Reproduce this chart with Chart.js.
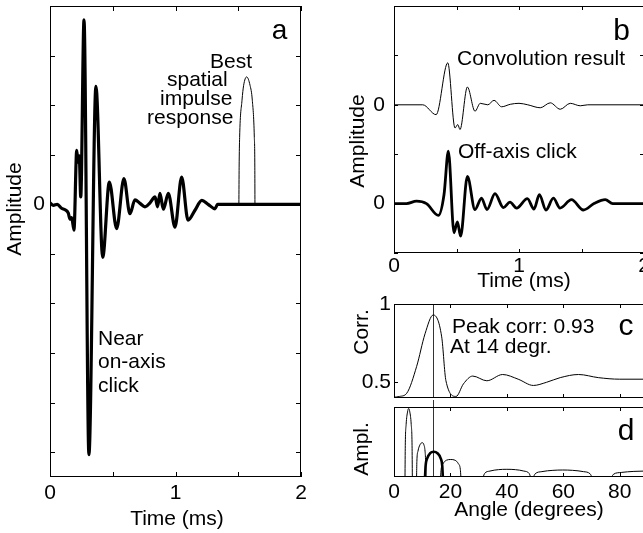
<!DOCTYPE html>
<html>
<head>
<meta charset="utf-8">
<script src="https://cdn.jsdelivr.net/npm/chart.js@4.4.1/dist/chart.umd.min.js"></script>
<style>
  body { margin: 0; background: #fff; }
  #fig { position: relative; width: 643px; height: 533px; overflow: hidden; background: #fff; }
  #fig canvas { position: absolute; }
</style>
</head>
<body>
<div id="fig">
  <canvas id="chartA" width="320" height="533" style="left:0px;top:0px"></canvas>
  <canvas id="chartB" width="340" height="300" style="left:320px;top:0px"></canvas>
  <canvas id="chartC" width="340" height="115" style="left:320px;top:290px"></canvas>
  <canvas id="chartD" width="340" height="133" style="left:320px;top:400px"></canvas>
</div>
<script>
// panel a: near on-axis click (time in ms, amplitude in tick units)
const onAxisT = [0, 0.027, 0.058, 0.092, 0.12, 0.146, 0.159, 0.173, 0.191, 0.213, 0.223, 0.233, 0.245, 0.271, 0.31, 0.366, 0.42, 0.473, 0.531, 0.589, 0.637, 0.677, 0.717, 0.757, 0.797, 0.837, 0.857, 0.876, 0.903, 0.943, 0.996, 1.049, 1.1, 1.155, 1.21, 1.26, 1.315, 1.335, 2];
const onAxisAmp = [0.03, -0.02, 0, -0.08, -0.11, -0.18, -0.3, -0.27, -0.52, 1.09, 0.85, 0.98, 0.15, 3.72, -5.05, 2.38, -1.07, 0.45, -0.49, 0.52, -0.19, 0.09, 0.02, -0.05, 0.03, 0.15, -0.05, 0.22, -0.1, 0.22, -0.46, 0.55, -0.32, -0.12, 0.08, 0, -0.09, 0, 0];
// best spatial impulse response
const bestT = [1.505, 1.507, 1.511, 1.53, 1.543, 1.567, 1.594, 1.612, 1.628, 1.632, 1.633];
const bestAmp = [0, 0.75, 1.35, 2.1, 2.4, 2.57, 2.4, 2.1, 1.35, 0.75, 0];
const xTicksA = [0, 0.5, 1, 1.5, 2];
const yTicksA = [-5, -4, -3, -2, -1, 0, 1, 2, 3, 4];

// panel b: convolution result (offset by 2) and off-axis click
const convT = [0, 0.23, 0.337, 0.43, 0.488, 0.51, 0.528, 0.587, 0.648, 0.69, 0.75, 0.8, 0.861, 0.93, 1.0, 1.07, 1.17, 1.25, 1.33, 1.41, 1.49, 1.55, 2];
const convAmp = [0, 0, -0.2, 0.85, -0.47, -0.4, -0.5, 0.36, -0.13, 0.03, 0, 0.09, -0.04, 0.01, 0.03, 0, -0.06, 0.04, -0.09, 0.03, -0.02, 0, 0];
const offT = [0, 0.1, 0.18, 0.26, 0.355, 0.4, 0.435, 0.48, 0.507, 0.533, 0.587, 0.648, 0.7, 0.744, 0.808, 0.875, 0.928, 0.981, 1.067, 1.12, 1.163, 1.216, 1.275, 1.328, 1.42, 1.515, 1.6, 1.69, 1.75, 2];
const offAmp = [0, 0, 0.05, 0, -0.24, 0.18, 1.06, -0.59, -0.37, -0.66, 0.55, -0.12, 0.11, -0.12, 0.2, -0.08, 0.03, -0.09, 0.1, -0.11, 0.18, -0.13, 0.11, -0.09, 0.08, -0.13, 0, 0.08, 0, 0];
const convOffset = 2;
const xTicksB = [0, 0.5, 1, 1.5, 2];
const yTicksB = [-1, 0, 1, 2, 3, 4];

// panel c: correlation vs angle
const corrDeg = [0, 2, 4.5, 8, 11, 13.9, 16.9, 18.4, 22, 24.6, 27.9, 32.9, 38.5, 44, 49.4, 54, 58.9, 65.4, 72.4, 80, 90];
const corrVal = [0.405, 0.41, 0.43, 0.6, 0.81, 0.93, 0.79, 0.51, 0.41, 0.49, 0.54, 0.51, 0.55, 0.52, 0.48, 0.5, 0.53, 0.55, 0.53, 0.52, 0.52];
const peakAngle = 14;
const angleTicks = [0, 20, 40, 60, 80];
const corrTicks = [0.5, 1];

// panel d: amplitude lobes vs angle (lobe3 is the thick one)
const lobe1Deg = [3.9, 4.0, 4.3, 4.8, 5.2, 5.6, 6.1, 6.4, 6.5];
const lobe1Val = [0, 0.45, 0.75, 0.93, 0.98, 0.93, 0.75, 0.45, 0];
const lobe2Deg = [8.0, 8.1, 8.5, 9.2, 10.0, 10.6, 11.0, 11.2, 11.3];
const lobe2Val = [0, 0.22, 0.37, 0.46, 0.49, 0.46, 0.37, 0.22, 0];
const lobe3Deg = [11.0, 11.2, 11.8, 12.8, 14.1, 15.4, 16.5, 17.1, 17.3];
const lobe3Val = [0, 0.16, 0.27, 0.34, 0.36, 0.34, 0.27, 0.16, 0];
const lobe4Deg = [16.5, 16.7, 17.4, 18.6, 20.1, 21.6, 22.8, 23.5, 23.7];
const lobe4Val = [0, 0.11, 0.19, 0.24, 0.25, 0.24, 0.19, 0.11, 0];
const lobe5Deg = [31.6, 32.1, 34.0, 37.0, 40.0, 43.0, 46.0, 47.9, 48.4];
const lobe5Val = [0, 0.05, 0.085, 0.105, 0.11, 0.105, 0.085, 0.05, 0];
const lobe6Deg = [49.4, 50.0, 52.4, 56.3, 59.8, 63.3, 67.1, 69.5, 70.1];
const lobe6Val = [0, 0.045, 0.077, 0.095, 0.1, 0.095, 0.077, 0.045, 0];
const lobe7Deg = [77.1, 77.8, 80.5, 85.0, 89.0, 93.0, 97.5, 100.2, 101];
const lobe7Val = [0, 0.04, 0.065, 0.08, 0.085, 0.08, 0.065, 0.04, 0];

const FONT = '"Liberation Sans", Arial, sans-serif';
Chart.defaults.font.family = FONT;
Chart.defaults.font.size = 21;
Chart.defaults.color = '#000';

function pts(xs, ys, off) {
    return xs.map((x, i) => ({x: x, y: ys[i] + (off || 0)}));
}

function line(data, width, extra) {
    return Object.assign({
        data: data,
        borderColor: '#000',
        borderWidth: width,
        pointRadius: 0,
        fill: false,
        cubicInterpolationMode: 'monotone'
    }, extra || {});
}

// frame with inward ticks on all four sides, plus free text
const framePlugin = {
    id: 'frame',
    afterDatasetsDraw(chart, args, opts) {
        const {ctx, chartArea: a, scales} = chart;
        ctx.save();
        ctx.strokeStyle = '#000';
        ctx.lineWidth = 1;
        ctx.strokeRect(a.left + 0.5, a.top + 0.5, a.right - a.left - 1, a.bottom - a.top - 1);
        const len = opts.tick || 4;
        ctx.beginPath();
        scales.x.ticks.forEach(t => {
            const px = Math.round(scales.x.getPixelForValue(t.value)) + 0.5;
            ctx.moveTo(px, a.bottom); ctx.lineTo(px, a.bottom - len);
            ctx.moveTo(px, a.top); ctx.lineTo(px, a.top + len);
        });
        if (opts.yTicks) {
            scales.y.ticks.forEach(t => {
                const py = Math.round(scales.y.getPixelForValue(t.value)) + 0.5;
                ctx.moveTo(a.left, py); ctx.lineTo(a.left + len, py);
                ctx.moveTo(a.right, py); ctx.lineTo(a.right - len, py);
            });
        }
        ctx.stroke();
        const ox = chart.canvas.offsetLeft, oy = chart.canvas.offsetTop;
        (opts.texts || []).forEach(tx => {
            ctx.save();
            ctx.fillStyle = '#000';
            ctx.font = (tx.size || 21) + 'px ' + FONT;
            ctx.textAlign = tx.align || 'left';
            ctx.translate(tx.x - ox, tx.y - oy);
            if (tx.rot) {
                ctx.rotate(-Math.PI / 2);
                ctx.textAlign = 'center';
                ctx.textBaseline = 'middle';
            } else {
                ctx.textBaseline = 'alphabetic';
            }
            ctx.fillText(tx.s, 0, 0);
            ctx.restore();
        });
        ctx.restore();
    }
};

function axis(min, max, tickList, label, size, pad) {
    return {
        type: 'linear',
        min: min,
        max: max,
        afterBuildTicks: s => { s.ticks = tickList.map(v => ({value: v})); },
        afterFit: s => {
            if (s.isHorizontal()) s.height = size; else s.width = size;
            s.paddingTop = 0; s.paddingBottom = 0; s.paddingLeft = 0; s.paddingRight = 0;
        },
        grid: {display: false, drawTicks: false},
        border: {display: false},
        ticks: {
            display: label !== null,
            autoSkip: false,
            maxRotation: 0,
            padding: pad,
            callback: label || (() => '')
        }
    };
}

function makeChart(id, datasets, scales, padding, frame) {
    return new Chart(document.getElementById(id), {
        type: 'line',
        data: {datasets: datasets},
        options: {
            responsive: false,
            animation: false,
            events: [],
            layout: {padding: padding},
            plugins: {legend: {display: false}, tooltip: {enabled: false}, frame: frame},
            scales: scales
        },
        plugins: [framePlugin]
    });
}

const intLabel = v => (Number.isInteger(v) ? String(v) : '');

// panel a
makeChart('chartA', [
    line(pts(onAxisT, onAxisAmp), 3.2),
    line(pts(bestT, bestAmp), 1)
], {
    x: axis(0, 2, xTicksA, intLabel, 56, 4),
    y: axis(-5.5, 4, yTicksA, v => (v === 0 ? '0' : ''), 50, 5)
}, {left: 0, top: 6, right: 19, bottom: 0}, {
    tick: 5, yTicks: true,
    texts: [
        {s: 'a', x: 279.5, y: 39, size: 28, align: 'center'},
        {s: 'Best', x: 210, y: 68},
        {s: 'spatial', x: 167, y: 86},
        {s: 'impulse', x: 160, y: 105},
        {s: 'response', x: 147, y: 124},
        {s: 'Near', x: 98, y: 345},
        {s: 'on-axis', x: 98, y: 368},
        {s: 'click', x: 98, y: 392},
        {s: 'Amplitude', x: 15, y: 209, rot: true},
        {s: 'Time (ms)', x: 177, y: 525, align: 'center'}
    ]
});

// panel b
makeChart('chartB', [
    line(pts(convT, convAmp, convOffset), 1),
    line(pts(offT, offAmp), 2.8)
], {
    x: axis(0, 2, xTicksB, intLabel, 47, 1),
    y: axis(-1, 4, yTicksB, v => (v === 0 || v === convOffset ? '0' : ''), 74, 9)
}, {left: 0, top: 6, right: 16, bottom: 0}, {
    tick: 4, yTicks: true,
    texts: [
        {s: 'b', x: 621.5, y: 40, size: 30, align: 'center'},
        {s: 'Convolution result', x: 457, y: 65},
        {s: 'Off-axis click', x: 458, y: 158},
        {s: 'Amplitude', x: 358, y: 141, rot: true},
        {s: 'Time (ms)', x: 524, y: 287, align: 'center'}
    ]
});

// panel c
makeChart('chartC', [
    line(pts(corrDeg, corrVal), 1),
    line([{x: peakAngle, y: 0.4}, {x: peakAngle, y: 1}], 1, {borderColor: '#333', cubicInterpolationMode: 'default'})
], {
    x: axis(0, 90, angleTicks, null, 7, 0),
    y: axis(0.4, 1, corrTicks, v => String(v), 74, 3)
}, {left: 0, top: 14, right: 12, bottom: 0}, {
    tick: 4, yTicks: true,
    texts: [
        {s: 'c', x: 626, y: 335, size: 30, align: 'center'},
        {s: 'Peak corr: 0.93', x: 452, y: 333},
        {s: 'At 14 degr.', x: 450, y: 353},
        {s: 'Corr.', x: 362, y: 332, rot: true}
    ]
});

// panel d
makeChart('chartD', [
    line(pts(lobe1Deg, lobe1Val), 1),
    line(pts(lobe2Deg, lobe2Val), 1),
    line(pts(lobe4Deg, lobe4Val), 1),
    line(pts(lobe5Deg, lobe5Val), 1),
    line(pts(lobe6Deg, lobe6Val), 1),
    line(pts(lobe7Deg, lobe7Val), 1),
    line(pts(lobe3Deg, lobe3Val), 2.6),
    line([{x: peakAngle, y: 0}, {x: peakAngle, y: 1.13}], 1, {borderColor: '#333', cubicInterpolationMode: 'default', clip: false})
], {
    x: axis(0, 90, angleTicks, v => String(v), 56, 3),
    y: axis(0, 1, [], null, 74, 0)
}, {left: 0, top: 7, right: 12, bottom: 0}, {
    tick: 4, yTicks: false,
    texts: [
        {s: 'd', x: 626, y: 440, size: 30, align: 'center'},
        {s: 'Ampl.', x: 362, y: 449, rot: true},
        {s: 'Angle (degrees)', x: 529, y: 516, align: 'center'}
    ]
});
</script>
</body>
</html>
